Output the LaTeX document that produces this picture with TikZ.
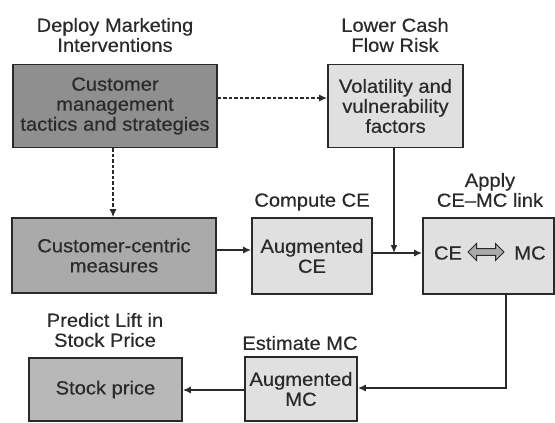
\documentclass[tikz,border=0pt]{standalone}
\usepackage{fontspec}
\setmainfont{Liberation Sans}[FakeStretch=1.06, FakeBold=0.4]
\usepackage{xcolor}
\usepackage{tikz}
\usetikzlibrary{arrows.meta, positioning, shapes.arrows}

\definecolor{inkgray}{HTML}{2A2A2A}
\definecolor{darkfill}{HTML}{8F8F8F}
\definecolor{midfill}{HTML}{AAAAAA}
\definecolor{softfill}{HTML}{B8B8B8}
\definecolor{lightfill}{HTML}{E0E0E0}

\tikzset{
  box/.style = {draw = inkgray, line width = 1.6pt, align = center,
      inner sep = 0pt, text = inkgray},
  tag/.style = {align = center, text = inkgray, inner sep = 0pt},
  link/.style = {draw = inkgray, line width = 1.5pt,
      -{Latex[length=8pt, width=7pt]}},
  hint/.style = {link, dash pattern = on 3.5pt off 2pt}
}

\begin{document}
\begin{tikzpicture}[x=1pt, y=-1pt,
          font=\fontsize{19}{20}\selectfont]

          \useasboundingbox (0,0) rectangle (555,423);

          % Boxes
          \node (tactics) [box, fill = darkfill, minimum width = 204pt, minimum height = 83pt]
              at (115,106) {Customer\\management\\tactics and strategies};
          \node (risk) [box, fill = lightfill, minimum width = 135pt, minimum height = 83pt]
              at (395.5,106) {Volatility and\\vulnerability\\factors};
          \node (measures) [box, fill = midfill, minimum width = 204pt, minimum height = 75pt]
              at (114,255.5) {Customer-centric\\measures};
          \node (ce) [box, fill = lightfill, minimum width = 120pt, minimum height = 76pt]
              at (312,256) {Augmented\\CE};
          \node (cemc) [box, fill = lightfill, minimum width = 131pt, minimum height = 76pt]
              at (488.5,256) {};
          \node (mc) [box, fill = lightfill, minimum width = 112pt, minimum height = 64pt]
              at (301,389) {Augmented\\MC};
          \node (price) [box, fill = softfill, minimum width = 153pt, minimum height = 63pt]
              at (105.5,389.5) {Stock price};

          % CE <-> MC inside the link box
          \node (celabel) [tag] at (448,253) {CE};
          \node (mclabel) [tag] at (530,253) {MC};
          \node (swap) [double arrow, draw = inkgray, fill = midfill, line width = 1pt,
              minimum width = 17pt, minimum height = 36pt, inner sep = 1.5pt,
              double arrow head extend = 3pt] at (486,252) {};

          % Step titles
          \node (deploy) [tag] at (115,35) {Deploy Marketing\\Interventions};
          \node (lower) [tag] at (395,35) {Lower Cash\\Flow Risk};
          \node (compute) [tag] at (312,202) {Compute CE};
          \node (apply) [tag] at (490,190) {Apply\\CE--MC link};
          \node (predict) [tag] at (105,330) {Predict Lift in\\Stock Price};
          \node (estimate) [tag] at (300,343) {Estimate MC};

          \coordinate (join) at (394,253);

          % Links
          \draw [hint] (tactics.east |- 0,98) -- (risk.west |- 0,98);
          \draw [hint] (tactics.south -| 113,0) -- (measures.north -| 113,0);
          \draw [link] (measures.east |- 0,250) -- (ce.west |- 0,250);
          \draw [link] (ce.east |- join) -- (cemc.west |- join);
          \draw [link] (risk.south -| join) -- (join);
          \draw [link] (cemc.south -| 506,0) |- (mc.east |- 0,388);
          \draw [link] (mc.west |- 0,390) -- (price.east |- 0,390);

        \end{tikzpicture}
\end{document}
